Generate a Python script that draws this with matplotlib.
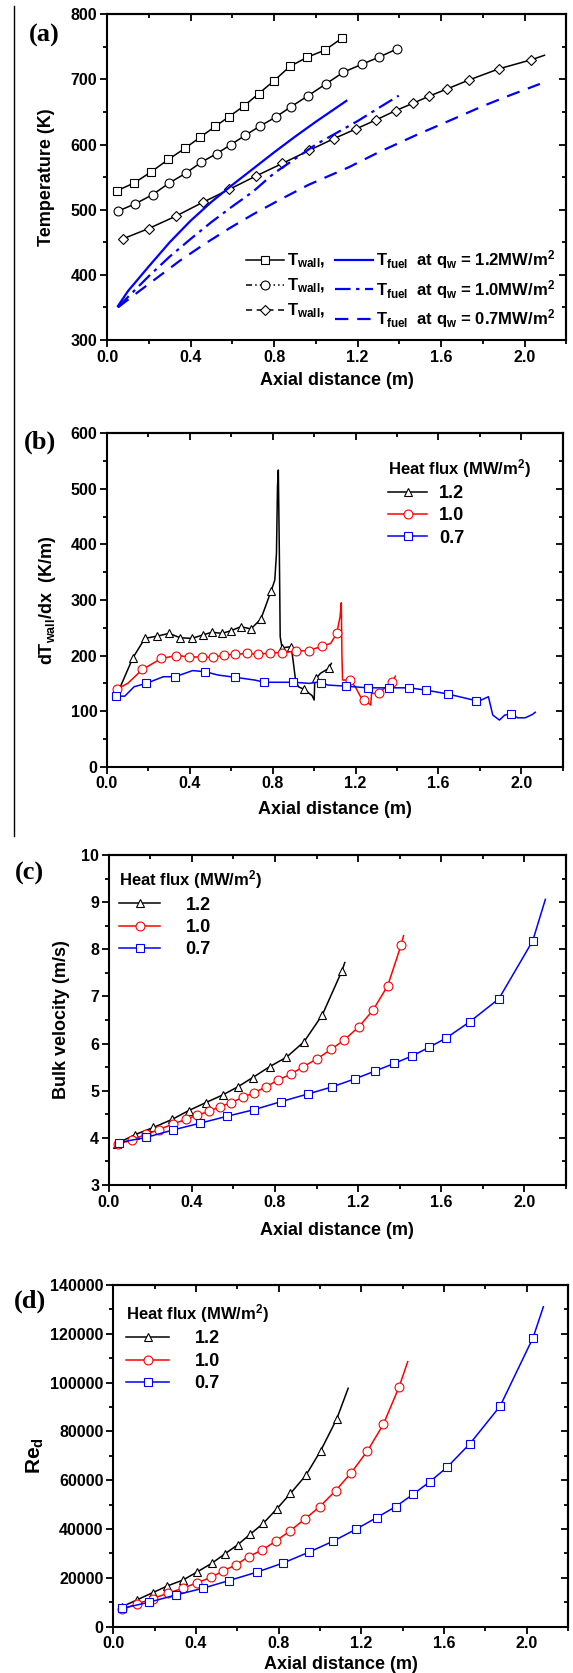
import numpy as np
import matplotlib
matplotlib.use("Agg")
import matplotlib.pyplot as plt
from matplotlib.lines import Line2D
from matplotlib.ticker import MultipleLocator, FormatStrFormatter

plt.rcParams['font.family'] = ['Liberation Sans', 'DejaVu Sans']
plt.rcParams['font.weight'] = 'bold'
plt.rcParams['axes.labelweight'] = 'bold'
plt.rcParams['mathtext.fontset'] = 'custom'
plt.rcParams['mathtext.rm'] = 'Liberation Sans:bold'
plt.rcParams['mathtext.it'] = 'Liberation Sans:bold'
plt.rcParams['mathtext.bf'] = 'Liberation Sans:bold'

# -----------------------------
# (a) wall / fuel temperature
# -----------------------------
a_w12_x = [0.047, 0.13, 0.211, 0.293, 0.372, 0.445, 0.519, 0.585, 0.655, 0.726, 0.8, 0.876, 0.959, 1.044, 1.124]
a_w12_y = [529, 541, 558, 577, 594, 611, 628, 643, 659, 678, 698, 720, 734, 745, 763]
a_w10_x = [0.054, 0.135, 0.218, 0.298, 0.377, 0.452, 0.525, 0.594, 0.661, 0.731, 0.807, 0.881,
           0.963, 1.048, 1.132, 1.219, 1.302, 1.39]
a_w10_y = [498, 509, 523, 541, 556, 573, 586, 600, 614, 628, 642, 658, 675, 693, 711, 723, 734, 747]
a_w07_x = [0.074, 0.199, 0.329, 0.457, 0.584, 0.715, 0.84, 0.968, 1.086, 1.193, 1.29, 1.382, 1.463,
           1.541, 1.626, 1.733, 1.875, 2.031, 2.095]
a_w07_y = [455, 471, 490, 511, 531, 552, 571, 591, 609, 624, 638, 652, 663, 674, 685, 699, 716, 730, 737]

a_f12_x = [0.052, 0.1, 0.2, 0.3, 0.4, 0.5, 0.6, 0.7, 0.8, 0.9, 1.0, 1.146]
a_f12_y = [352, 375, 413, 450, 483, 512, 538, 563, 588, 612, 635, 667]
a_f10_x = [0.052, 0.1, 0.2, 0.3, 0.4, 0.5, 0.6, 0.7, 0.8, 0.9, 1.0, 1.1, 1.2, 1.3, 1.397]
a_f10_y = [350, 366, 398, 428, 455, 481, 505, 528, 556, 578, 600, 618, 636, 656, 675]
a_f07_x = [0.052, 0.15, 0.25, 0.35, 0.47, 0.589, 0.70, 0.826, 0.964, 1.157, 1.3, 1.484, 1.65,
           1.80, 1.917, 2.073]
a_f07_y = [350, 374, 398, 422, 448, 472, 493, 515, 538, 565, 588, 615, 638, 659, 674, 693]

# -----------------------------
# (b) wall temperature gradient
# -----------------------------
b12_x = [0.06, 0.125, 0.183, 0.242, 0.3, 0.354, 0.41, 0.462, 0.506, 0.556, 0.6, 0.646, 0.695, 0.743,
         0.792, 0.81, 0.818, 0.823, 0.827, 0.832, 0.836, 0.845, 0.889, 0.898, 0.91, 0.924, 0.952,
         0.99, 1.0, 1.003, 1.03, 1.07, 1.083]
b12_y = [140, 196, 231, 235, 240, 232, 231, 237, 242, 240, 245, 252, 248, 266,
         316, 336, 384, 504, 534, 384, 234, 214, 216, 192, 156, 144, 139,
         128, 120, 156, 168, 177, 186]
b12_mx = [0.125, 0.183, 0.242, 0.3, 0.354, 0.41, 0.462, 0.506, 0.556, 0.6, 0.646, 0.695, 0.743, 0.792,
          0.845, 0.889, 0.952, 1.007, 1.07]
b12_my = [196, 231, 235, 240, 232, 231, 237, 242, 240, 245, 252, 248, 266, 316, 214, 216, 139, 159, 177]

b10_x = [0.046, 0.1, 0.171, 0.263, 0.335, 0.397, 0.459, 0.511, 0.566, 0.619, 0.675, 0.73, 0.787, 0.847,
         0.91, 0.974, 1.039, 1.08, 1.109, 1.125, 1.131, 1.134, 1.137, 1.171, 1.198, 1.224, 1.242,
         1.273, 1.277, 1.312, 1.347, 1.377, 1.392]
b10_y = [139, 150, 175, 195, 200, 198, 197, 197, 201, 202, 204, 202, 205, 205,
         208, 209, 217, 222, 240, 270, 295, 200, 156, 156, 144, 126, 120,
         111, 132, 132, 144, 153, 163]
b10_mx = [0.046, 0.171, 0.263, 0.335, 0.397, 0.459, 0.511, 0.566, 0.619, 0.675, 0.73, 0.787, 0.847,
          0.91, 0.974, 1.039, 1.109, 1.171, 1.242, 1.312, 1.377]
b10_my = [139, 175, 195, 200, 198, 197, 197, 201, 202, 204, 202, 205, 205, 208, 209, 217, 240, 156,
          120, 132, 153]

b07_x = [0.042, 0.086, 0.131, 0.19, 0.272, 0.33, 0.413, 0.474, 0.536, 0.617, 0.713, 0.76, 0.9, 0.977,
         1.03, 1.065, 1.153, 1.259, 1.362, 1.457, 1.538, 1.644, 1.78, 1.806, 1.841, 1.862, 1.894,
         1.92, 1.952, 1.982, 2.018, 2.053, 2.067]
b07_y = [127, 127, 144, 150, 162, 162, 173, 171, 165, 161, 156, 152, 152, 150,
         153, 147, 145, 142, 142, 142, 138, 131, 119, 120, 126, 93, 84,
         93, 95, 88, 88, 94, 98]
b07_mx = [0.042, 0.19, 0.33, 0.474, 0.617, 0.76, 0.9, 1.034, 1.153, 1.259, 1.362, 1.457, 1.538, 1.644,
          1.78, 1.952]
b07_my = [127, 150, 162, 171, 161, 152, 152, 151, 145, 142, 142, 142, 138, 131, 119, 95]

# -----------------------------
# (c) bulk velocity (last point = line end, no marker)
# -----------------------------
c12_x = [0.039, 0.127, 0.214, 0.304, 0.385, 0.468, 0.548, 0.62, 0.693, 0.774, 0.855, 0.94, 1.028, 1.122, 1.136]
c12_y = [3.88, 4.07, 4.22, 4.39, 4.58, 4.75, 4.91, 5.08, 5.28, 5.51, 5.71, 6.04, 6.61, 7.54, 7.72]
c10_x = [0.044, 0.11, 0.18, 0.24, 0.311, 0.371, 0.424, 0.481, 0.534, 0.59, 0.645, 0.701, 0.756, 0.816,
         0.876, 0.936, 1.004, 1.071, 1.134, 1.205, 1.272, 1.343, 1.408, 1.419]
c10_y = [3.87, 3.95, 4.08, 4.17, 4.3, 4.39, 4.48, 4.56, 4.66, 4.75, 4.86, 4.96, 5.08, 5.23,
         5.35, 5.51, 5.68, 5.88, 6.08, 6.36, 6.71, 7.23, 8.1, 8.29]
c07_x = [0.049, 0.18, 0.311, 0.438, 0.571, 0.701, 0.83, 0.958, 1.074, 1.184, 1.283, 1.375, 1.461,
         1.542, 1.625, 1.737, 1.878, 2.041, 2.102]
c07_y = [3.9, 4.01, 4.17, 4.31, 4.46, 4.6, 4.77, 4.93, 5.08, 5.25, 5.42, 5.58, 5.74,
         5.92, 6.12, 6.46, 6.95, 8.18, 9.06]

# -----------------------------
# (d) Reynolds number (last point = line end, no marker)
# -----------------------------
d12_x = [0.043, 0.113, 0.19, 0.262, 0.337, 0.407, 0.477, 0.539, 0.601, 0.661, 0.725, 0.79, 0.857,
         0.932, 1.003, 1.081, 1.136]
d12_y = [8200, 10900, 13900, 16700, 19100, 22500, 26000, 29800, 33500, 37800, 42300, 48200, 54600,
         62100, 72100, 85200, 97700]
d10_x = [0.043, 0.115, 0.19, 0.264, 0.335, 0.406, 0.473, 0.533, 0.593, 0.655, 0.719, 0.787, 0.854,
         0.925, 0.999, 1.075, 1.151, 1.229, 1.306, 1.382, 1.424]
d10_y = [7100, 9300, 11500, 13700, 15700, 18000, 20200, 22900, 25300, 28700, 31400, 35100, 39200,
         44000, 49200, 55700, 63100, 72000, 82900, 98200, 108600]
d07_x = [0.043, 0.172, 0.303, 0.432, 0.56, 0.693, 0.822, 0.948, 1.065, 1.173, 1.274, 1.366, 1.449,
         1.531, 1.614, 1.725, 1.871, 2.03, 2.08]
d07_y = [7500, 10000, 13000, 15700, 18900, 22300, 26100, 30600, 35100, 39900, 44700, 49200, 54200,
         59400, 65300, 75000, 90400, 118400, 131100]

flux_labels = ["1.2", "1.0", "0.7"]
flux_colors = ["black", "red", "blue"]
flux_markers = ["^", "o", "s"]

LW = 1.1
MS = 6.4
MEW = 0.8


def style_axes(ax, ylim, ymaj, ymin, xpad):
    ax.set_xlim(0, 2.2)
    ax.set_ylim(*ylim)
    ax.xaxis.set_major_locator(MultipleLocator(0.4))
    ax.xaxis.set_minor_locator(MultipleLocator(0.2))
    ax.yaxis.set_major_locator(MultipleLocator(ymaj))
    ax.yaxis.set_minor_locator(MultipleLocator(ymin))
    ax.xaxis.set_major_formatter(FormatStrFormatter('%.1f'))
    ax.yaxis.set_major_formatter(FormatStrFormatter('%d'))
    ax.tick_params(which='major', direction='out', length=5, width=1.3, labelsize=11.5, pad=2)
    ax.tick_params(which='minor', direction='out', length=3, width=1.3)
    for s in ax.spines.values():
        s.set_linewidth(1.5)
    top = ax.secondary_xaxis('top')
    top.xaxis.set_major_locator(MultipleLocator(0.4))
    top.xaxis.set_minor_locator(MultipleLocator(0.2))
    top.tick_params(which='major', direction='in', length=5, width=1.3, labeltop=False)
    top.tick_params(which='minor', direction='in', length=3, width=1.3)
    top.spines['top'].set_linewidth(1.5)
    right = ax.secondary_yaxis('right')
    right.yaxis.set_major_locator(MultipleLocator(ymaj))
    right.yaxis.set_minor_locator(MultipleLocator(ymin))
    right.tick_params(which='major', direction='in', length=5, width=1.3, labelright=False)
    right.tick_params(which='minor', direction='in', length=3, width=1.3)
    right.spines['right'].set_linewidth(1.5)
    ax.set_xlabel("Axial distance (m)", fontsize=13, labelpad=xpad)


def flux_legend(ax, anchor, hl, htp):
    handles = [Line2D([], [], color=c, marker=m, markersize=MS, markerfacecolor='white',
                      markeredgewidth=MEW, lw=LW) for c, m in zip(flux_colors, flux_markers)]
    ax.legend(handles, flux_labels, title="Heat flux (MW/m$^2$)", loc='upper left',
              bbox_to_anchor=anchor, frameon=False, alignment='left', fontsize=13,
              title_fontproperties={'weight': 'bold', 'size': 12}, handlelength=hl,
              handletextpad=htp, borderpad=0, borderaxespad=0, labelspacing=0.3)


fig = plt.figure(figsize=(5.73, 16.73), dpi=100)

# vertical rule at left of (a) and (b)
fig.add_artist(Line2D([0.0243, 0.0243], [0.5003, 0.9964], transform=fig.transFigure,
                      color='black', lw=1.0))

# ---------------- (a) ----------------
ax = fig.add_axes([0.1869, 0.7968, 0.8016, 0.1947])
ax.plot(a_w12_x, a_w12_y, color='black', lw=LW, marker='s', ms=MS, mfc='white', mew=MEW)
ax.plot(a_w10_x, a_w10_y, color='black', lw=LW, marker='o', ms=MS, mfc='white', mew=MEW)
ax.plot(a_w07_x, a_w07_y, color='black', lw=LW, marker='D', ms=MS * 0.85, mfc='white', mew=MEW,
        markevery=slice(0, -1))
ax.plot(a_f12_x, a_f12_y, color='blue', lw=1.6, ls='-')
ax.plot(a_f10_x, a_f10_y, color='blue', lw=1.6, ls=(0, (7, 2.5, 1.5, 2.5)))
ax.plot(a_f07_x, a_f07_y, color='blue', lw=1.6, ls=(0, (6, 4)))
style_axes(ax, (300, 800), 100, 50, 5)
ax.set_ylabel("Temperature (K)", fontsize=13, labelpad=11)

h_w = [Line2D([], [], color='black', lw=LW, marker='s', ms=MS, mfc='white', mew=MEW),
       Line2D([], [], color='black', lw=LW, ls=(0, (4, 2, 1, 2, 1, 2)), marker='o', ms=MS, mfc='white', mew=MEW),
       Line2D([], [], color='black', lw=LW, ls=(0, (4, 3)), marker='D', ms=MS * 0.85, mfc='white', mew=MEW)]
h_f = [Line2D([], [], color='blue', lw=1.6, ls='-'),
       Line2D([], [], color='blue', lw=1.6, ls=(0, (7, 2.5, 1.5, 2.5))),
       Line2D([], [], color='blue', lw=1.6, ls=(0, (6, 4)))]
wall_lab = [r"T$_{\rm wall}$,"] * 3
fuel_lab = [r"T$_{\rm fuel}$  at q$_{\rm w}$ = %sMW/m$^2$" % q for q in flux_labels]
ax.legend(h_w + h_f, wall_lab + fuel_lab, ncol=2, loc='lower right', bbox_to_anchor=(0.975, 0.03),
          frameon=False, fontsize=12, handlelength=2.3, handletextpad=0.15, columnspacing=0.6,
          borderpad=0, borderaxespad=0, labelspacing=0.4)

# ---------------- (b) ----------------
ax = fig.add_axes([0.1867, 0.5417, 0.7955, 0.1993])
for lx, ly, mx, my, c, m in [(b12_x, b12_y, b12_mx, b12_my, 'black', '^'),
                             (b10_x, b10_y, b10_mx, b10_my, 'red', 'o'),
                             (b07_x, b07_y, b07_mx, b07_my, 'blue', 's')]:
    ax.plot(lx, ly, color=c, lw=LW)
    ax.plot(mx, my, ls='none', color=c, marker=m, ms=MS, mfc='white', mew=MEW)
style_axes(ax, (0, 600), 100, 50, 7)
ax.set_ylabel(r"dT$_{\rm wall}$/dx  (K/m)", fontsize=13, labelpad=9)
flux_legend(ax, (0.616, 0.93), 2.2, 0.65)

# ---------------- (c) ----------------
ax = fig.add_axes([0.19, 0.2917, 0.7973, 0.1972])
for x, y, c, m in [(c12_x, c12_y, 'black', '^'), (c10_x, c10_y, 'red', 'o'), (c07_x, c07_y, 'blue', 's')]:
    ax.plot(x, y, color=c, lw=LW, marker=m, ms=MS, mfc='white', mew=MEW, markevery=slice(0, -1))
style_axes(ax, (3, 10), 1, 0.5, 9)
ax.set_ylabel("Bulk velocity (m/s)", fontsize=13, labelpad=8)
flux_legend(ax, (0.022, 0.96), 2.3, 1.4)

# ---------------- (d) ----------------
ax = fig.add_axes([0.1977, 0.0277, 0.7939, 0.2042])
for x, y, c, m in [(d12_x, d12_y, 'black', '^'), (d10_x, d10_y, 'red', 'o'), (d07_x, d07_y, 'blue', 's')]:
    ax.plot(x, y, color=c, lw=LW, marker=m, ms=MS, mfc='white', mew=MEW, markevery=slice(0, -1))
style_axes(ax, (0, 140000), 20000, 10000, 3)
ax.set_ylabel(r"Re$_{\rm d}$", fontsize=15, labelpad=3)
flux_legend(ax, (0.028, 0.95), 2.4, 1.4)

# panel letters
for lab, x, y in [("(a)", 0.077, 0.979), ("(b)", 0.070, 0.7358), ("(c)", 0.0515, 0.4782), ("(d)", 0.052, 0.2224)]:
    fig.text(x, y, lab, family=['Liberation Serif', 'DejaVu Serif'], weight='bold', fontsize=19,
             ha='center', va='center')

fig.savefig("out.png", dpi=100)
